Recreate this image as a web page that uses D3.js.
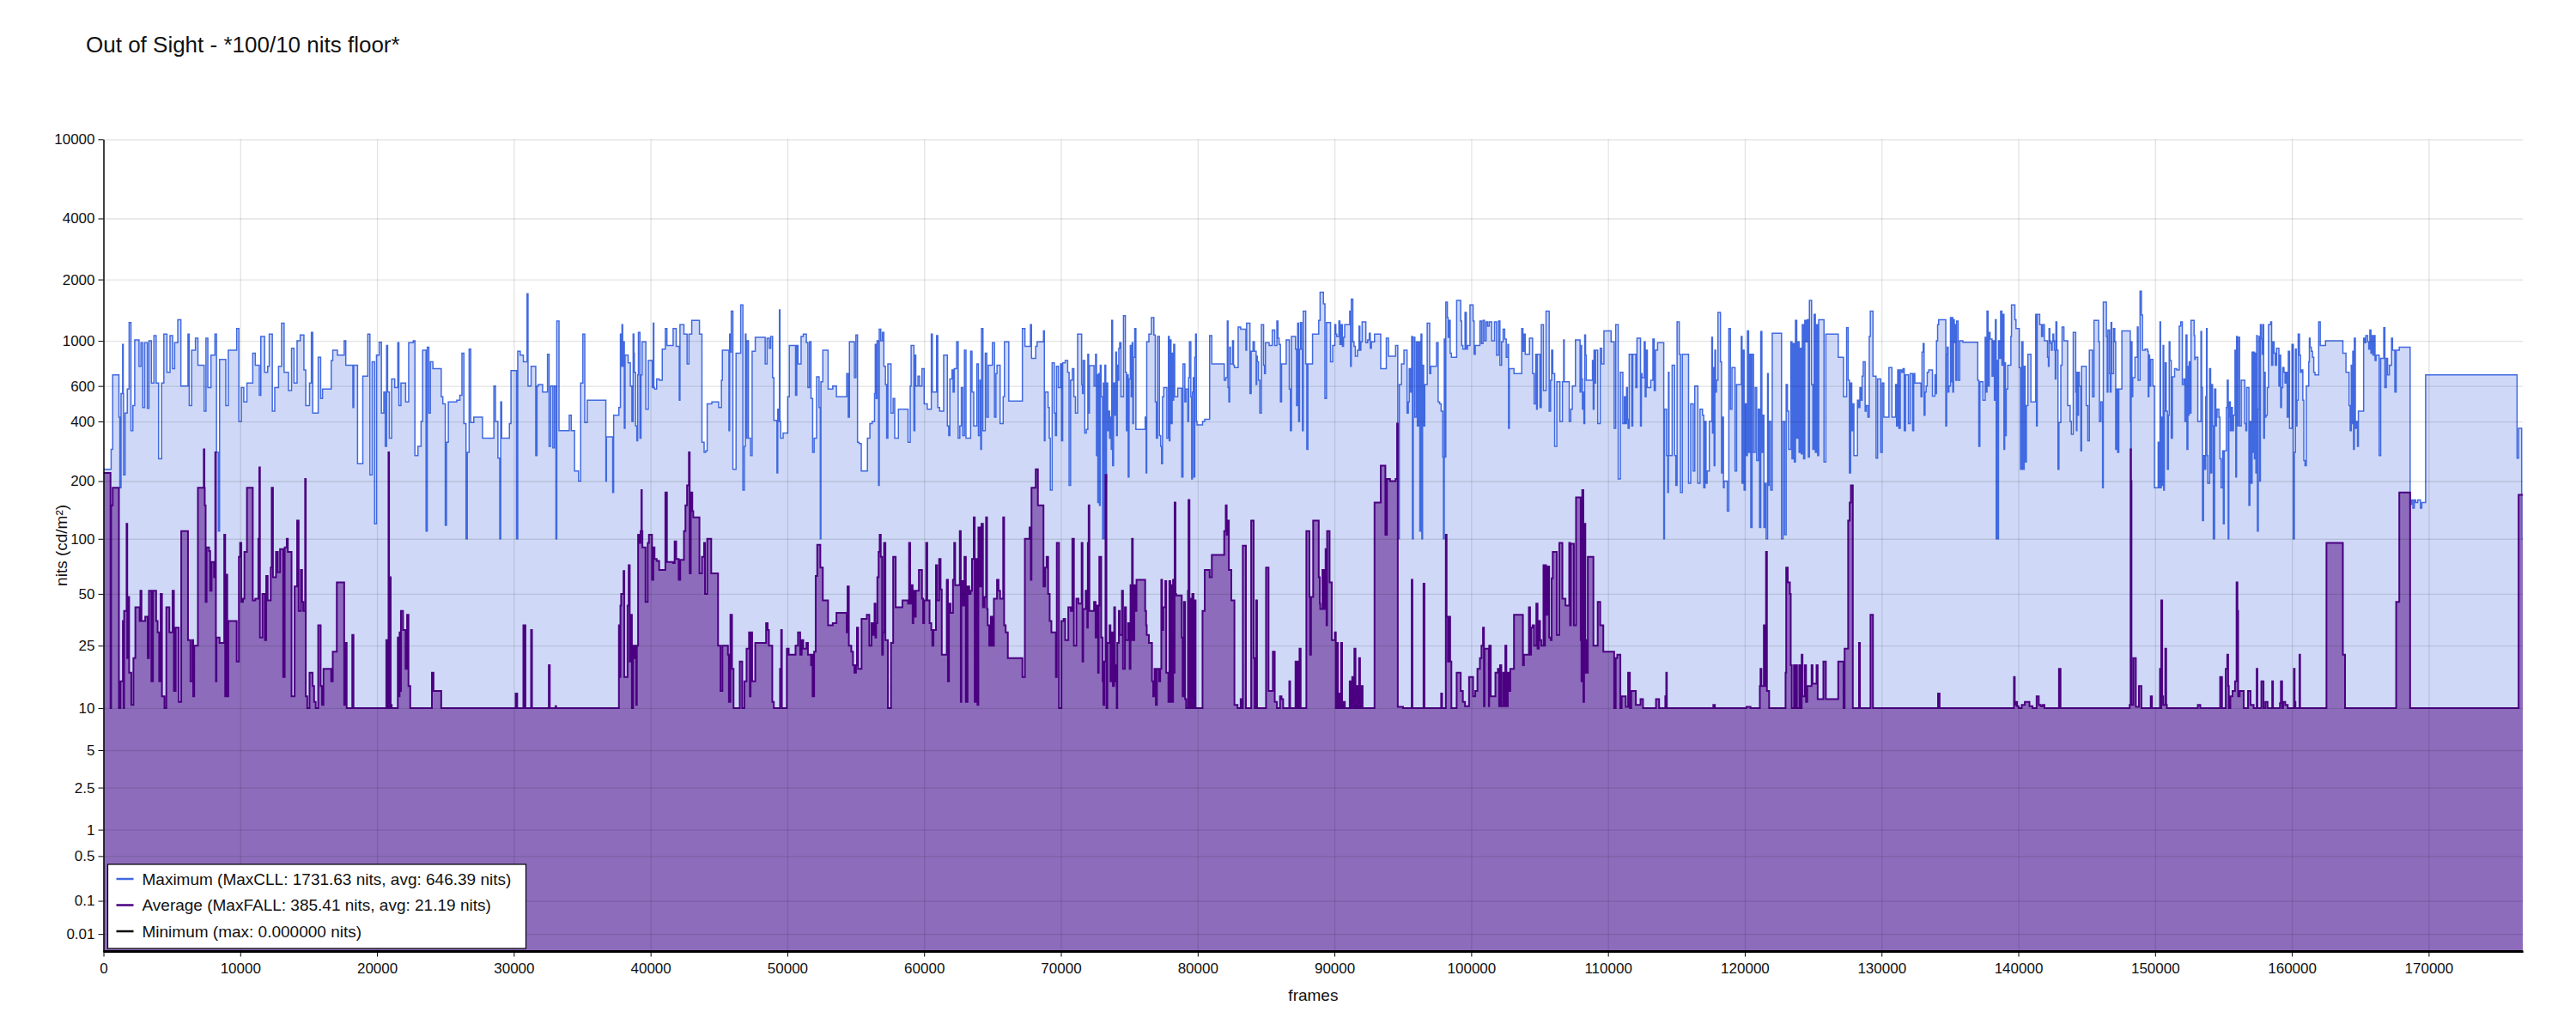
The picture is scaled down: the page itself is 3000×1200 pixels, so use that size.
<!DOCTYPE html>
<html>
<head>
<meta charset="utf-8">
<title>Out of Sight - *100/10 nits floor*</title>
<script src="https://cdn.jsdelivr.net/npm/d3@7"></script>
<style>
  body { margin: 0; background: #fff; }
  svg { font-family: "Liberation Sans", Arial, sans-serif; }
  .grid line { stroke: #000; stroke-opacity: 0.11; stroke-width: 1.3; }
  .grid path { display: none; }
  .axis text { font-size: 17px; fill: #111; }
  .axis path, .axis line { stroke: #000; }
</style>
</head>
<body>
<div id="chart"></div>
<script>
var title = "Out of Sight - *100/10 nits floor*";
var totalFrames = 176900;

var yTicks = [0.01, 0.1, 0.5, 1, 2.5, 5, 10, 25, 50, 100, 200, 400, 600, 1000, 2000, 4000, 10000];
var xTicks = [0, 10000, 20000, 30000, 40000, 50000, 60000, 70000, 80000, 90000,
  100000, 110000, 120000, 130000, 140000, 150000, 160000, 170000];

var legendLabels = [
  "Maximum (MaxCLL: 1731.63 nits, avg: 646.39 nits)",
  "Average (MaxFALL: 385.41 nits, avg: 21.19 nits)",
  "Minimum (max: 0.000000 nits)"
];

// [start frame, nits] - held until the next entry
var maxSteps = [
  [0,230],[560,290],[675,680],[1130,420],[1195,185],[1285,550],[1400,960],[1445,550],[1470,215],[1580,440],
  [1740,580],[1875,1230],[2010,360],[2150,480],[2285,1010],[2600,750],[2740,980],[2870,470],[3010,980],[3210,465],
  [3325,1000],[3505,620],[3690,1060],[3850,620],[4030,260],[4255,620],[4415,1080],[4640,700],[4865,1060],[5050,730],
  [5205,980],[5435,1270],[5660,600],[6180,1080],[6270,480],[6450,900],[6725,1030],[6905,760],[7360,450],[7495,1030],
  [7630,590],[7860,850],[8150,1080],[8265,280],[8400,110],[8490,810],[8945,480],[9125,900],[9740,1150],[9900,400],
  [10080,590],[10260,500],[10490,620],[10915,870],[11100,760],[11395,540],[11505,1050],[11780,700],[12005,750],[12120,1080],
  [12345,450],[12525,590],[12800,750],[13025,1220],[13205,700],[13525,570],[13750,920],[13930,620],[14155,1000],[14385,1070],
  [14655,720],[14790,480],[15065,620],[15200,1100],[15300,440],[15700,830],[15880,520],[16015,580],[16650,800],[16765,900],
  [17105,850],[17600,1000],[17715,760],[18235,470],[18300,760],[18575,245],[18960,670],[19325,1080],[19480,215],[19640,790],
  [19820,120],[19960,850],[20160,985],[20320,440],[20500,560],[20600,300],[20700,950],[20775,560],[20900,330],[21070,650],
  [21295,590],[21520,980],[21600,480],[21750,620],[22090,500],[22315,980],[22655,1000],[22770,270],[22995,300],[23220,400],
  [23335,900],[23585,110],[23675,930],[23790,440],[23900,790],[24085,730],[24695,530],[24810,490],[24990,118],[25080,315],
  [25215,500],[25830,510],[26055,540],[26210,870],[26350,390],[26505,100],[26600,280],[26735,910],[26850,395],[27075,420],
  [27710,330],[28545,600],[28660,400],[28840,262],[28975,100],[29045,500],[29115,330],[29680,390],[29795,715],[30200,100],
  [30290,890],[30470,850],[30700,790],[30970,1700],[31040,600],[31265,750],[31605,270],[31700,600],[31790,610],[32105,560],
  [32465,860],[32580,300],[32695,600],[32855,295],[32965,600],[33080,100],[33145,1250],[33305,360],[34055,430],[34200,360],
  [34440,225],[34735,200],[34890,620],[35050,1080],
  [35190,395],[35370,510],[36730,200],[36775,335],[37230,175],[37300,430],[37685,470],[37795,1080],[37850,750],[37910,1200],
  [37960,750],[38025,990],[38080,370],[38135,850],[38360,780],[38520,600],[38635,400],[38725,1080],[38780,870],[38815,700],
  [38900,380],[38995,320],[39060,680],[39110,1100],[39225,330],[39300,680],[39380,990],[39655,460],[39835,800],[40130,590],
  [40200,1220],[40240,590],[40290,580],[40445,650],[40630,640],[40855,910],[41080,1150],[41195,950],[41650,1150],[41875,940],
  [42100,510],[42150,1200],[42440,1080],[42670,770],[42805,1080],[43010,1260],[43575,1080],[43755,315],[43915,280],[44030,285],
  [44140,490],[44480,500],[44980,470],[45180,640],[45250,900],[45730,360],[45780,1080],[45840,880],[45900,1400],[46020,230],
  [46250,870],[46590,1500],[46750,180],[46860,300],[46930,1080],[46975,330],[47050,1000],[47155,330],[47310,270],[47425,890],
  [47655,1040],[48380,770],[48515,1030],[48675,920],[48785,1050],[48920,660],[49015,405],[49240,220],[49300,460],[49355,400],
  [49420,1420],[49460,400],[49510,330],[49690,350],[50030,530],[50145,950],[50600,540],[50690,950],[50780,770],[51005,1050],
  [51165,1080],[51390,980],[51505,590],[51620,990],[51730,520],[51850,280],[51960,330],[52140,665],[52320,470],[52410,100],
  [52455,630],[52595,900],[52980,580],[53320,600],[53590,530],[54340,690],[54450,420],[54540,990],[54905,660],[55015,1070],
  [55130,315],[55245,310],[55405,225],[55855,330],[56035,390],[56200,400],[56375,550],[56430,960],[56490,520],[56560,1000],
  [56670,190],[56720,1140],[56830,1000],[56950,1100],[57055,750],[57170,610],[57260,330],[57350,770],[57580,440],[57735,520],
  [57850,330],[58120,460],[58825,315],[58985,600],[59050,950],[59255,360],[59320,850],[59390,600],[59550,670],[59665,600],
  [59845,730],[60000,490],[60230,460],[60525,1080],[60600,560],[60910,1060],[61000,470],[61135,450],[61430,850],[61700,380],
  [61800,340],[61885,650],[62040,720],[62120,560],[62200,730],[62380,990],[62490,330],[62610,380],[62720,590],[62830,340],
  [62950,900],[63060,330],[63400,890],[63500,560],[63630,380],[63855,770],[63970,340],[64080,640],[64140,290],[64195,1150],
  [64300,360],[64470,870],[64580,420],[64695,760],[64990,980],[65145,420],[65250,690],[65330,760],[65555,390],[65780,530],
  [65870,990],[66190,505],[67185,1150],[67370,940],[67775,1200],[67850,820],[68160,940],[68260,990],[68730,1120],[68790,320],
  [68840,560],[69065,470],[69150,330],[69225,180],[69360,780],[69520,440],[69600,340],[69680,750],[69815,590],[69975,770],
  [70050,320],[70130,780],[70315,800],[70495,700],[70600,190],
  [70710,640],[70837,730],[70950,530],[71064,440],[71223,1080],[71517,610],[71580,550],[71630,800],[71744,350],[71857,365],
  [71970,860],[72030,440],[72084,755],[72424,600],[72537,860],[72600,270],[72650,680],[72700,155],[72763,690],[72820,150],
  [72877,760],[72940,530],[73050,100],[73103,620],[73160,100],[73217,760],[73280,200],[73330,620],[73420,360],[73489,450],
  [73560,330],[73624,420],[73680,290],[73715,1260],[73780,240],[73851,620],[73930,430],[74010,880],[74070,340],[74123,760],
  [74180,640],[74236,920],[74300,980],[74395,530],[74576,1330],[74712,700],[74790,360],[74848,680],[74920,210],[74984,650],
  [75075,950],[75140,530],[75211,980],[75260,390],[75301,830],[75400,1150],[75483,365],[76162,420],[76230,220],[76276,990],
  [76434,1080],[76616,1300],[76797,1070],[76900,500],[76978,330],[77069,1050],[77205,340],[77295,300],[77360,245],[77431,530],
  [77522,590],[77749,330],[77862,1050],[77920,320],[77975,1010],[78050,390],[78134,870],[78190,510],[78247,960],[78320,530],
  [78542,585],[78836,210],[78927,770],[79063,500],[79140,580],[79280,400],[79335,660],[79400,990],[79500,530],[79561,205],
  [79620,560],[79675,660],[79730,210],[79788,830],[79850,1080],[79901,400],[79950,385],[80355,400],[80513,410],[80876,1060],
  [81034,770],[81941,640],[82054,660],[82167,1250],[82220,590],[82281,500],[82340,930],[82394,770],[82553,1000],[82620,760],
  [82688,740],[82960,1170],[83142,1140],[83527,900],[83580,1220],[83821,550],[83912,890],[84048,990],[84150,890],[84275,610],
  [84320,840],[84365,790],[84450,640],[84547,440],[84660,1200],[84819,760],[84890,690],[84954,980],[85226,950],[85453,1130],
  [85634,950],[85793,1250],[85870,1030],[85952,960],[86050,500],[86133,770],[86473,1010],[86699,580],[86780,360],[86858,1050],
  [87153,910],[87230,480],[87311,1220],[87380,400],[87447,910],[87520,1230],[87606,910],[87660,360],[87719,1400],[87900,770],
  [87980,290],[88059,770],[88399,1080],[88852,1260],[88950,1730],[89192,1520],[89305,520],[89419,1230],[89713,790],[89872,950],
  [90030,1200],[90100,1080],[90166,1050],[90325,1250],[90400,960],[90484,1200],[90580,940],[90665,1040],[90750,1200],[91118,1400],
  [91180,750],[91231,1600],[91345,990],[91430,940],[91526,840],[91685,900],[91798,1180],[91860,900],[91934,990],[92024,1240],
  [92296,980],[92432,1010],[92546,1090],[92620,920],[92704,990],[92931,1080],[93384,730],[93792,1030],[93951,840],[94472,950],
  [94630,380],[94700,100],[94744,610],[94900,770],[95084,900],[95310,440],[95400,500],[95469,730],[95560,560],[95650,1050],
  [95700,100],[95763,1040],[95880,420],[95990,990],[96060,380],[96149,990],[96240,110],[96330,1080],[96390,100],[96443,760],
  [96520,380],[96602,610],[96783,1220],[96964,690],[97040,750],[97463,980],[97580,500],[97689,490],[97800,450],[97916,265],
  [97970,100],[98029,1020],[98090,265],[98143,1550],[98256,1300],[98310,1040],[98369,1260],[98460,870],[98550,830],[98936,1580],
  [99230,1250],[99300,950],[99389,910],[99547,1380],[99640,910],[99729,950],[99910,1500],[100137,1250],[100210,860],[100295,950],
  [100635,1250],[100750,970],[100862,1260],[100970,1000],[101088,1240],[101200,1180],[101315,1240],[101500,1000],[101700,1240],[101850,850],
  [101995,1250],[102100,760],[102221,990],[102330,1140],[102448,1020],[102560,830],[102675,960],[102730,370],[102788,730],[103128,690],
  [103694,1150],[103780,890],[103853,1080],[103950,860],[104261,1030],[104487,690],[104600,490],[104714,860],[104780,460],[104827,860],
  [105030,470],[105122,1200],[105281,570],[105470,1400],[105700,450],[105802,640],[105880,900],[105961,690],[106100,300],
  [106259,630],[106486,400],[106667,630],[106760,1010],[106800,630],[107165,400],[107279,460],[107392,600],[107619,1010],[107959,560],
  [108020,950],[108072,650],[108130,460],[108185,560],[108240,390],[108298,1070],[108360,850],[108412,640],[108865,800],[108920,460],
  [108978,900],[109040,620],[109092,900],[109250,390],[109431,920],[109545,770],[109703,1120],[110225,990],[110451,370],[110564,1200],
  [110746,205],[110904,700],[111086,390],[111199,530],[111280,390],[111358,590],[111420,410],[111471,370],[111550,860],[111740,380],
  [111811,860],[112037,590],[112120,1030],[112377,380],[112440,690],[112491,660],[112649,990],[112720,530],[112785,900],[112876,590],
  [113125,640],[113284,1020],[113380,570],[113465,900],[113624,980],[114077,100],[114130,460],[114280,270],[114371,175],[114420,700],
  [114462,270],[114689,760],[114870,270],[114960,190],[115051,1240],[115210,860],[115300,175],[115436,860],[115890,195],[116048,490],
  [116229,225],[116343,600],[116569,195],[116728,460],[116909,430],[117000,185],[117090,400],[117170,195],[117249,225],[117408,400],
  [117589,1040],[117640,350],[117702,740],[117760,240],[117816,900],[117870,560],[117929,640],[118042,1380],[118223,790],[118300,220],
  [118382,420],[118440,185],[118495,200],[118722,140],[118835,1150],[118949,460],[119062,740],[119289,225],[119402,610],[119742,1050],
  [119800,195],[119855,900],[119950,180],[120036,490],[120110,270],[120195,1120],[120280,280],[120354,860],[120440,115],[120535,860],
  [120640,280],[120761,590],[120870,255],[120988,460],[121080,115],[121169,1110],[121250,280],[121328,430],[121400,115],[121487,195],
  [121560,100],[121668,690],[121720,190],[121781,400],[121900,180],[122008,1090],[122688,100],[122801,400],[122920,105],[123027,610],
  [123120,450],[123209,290],[123367,990],[123450,260],[123526,970],[123620,250],[123707,1260],[123800,330],[123888,990],[123970,280],
  [124047,920],[124130,275],[124206,1200],[124300,260],[124387,1260],[124480,990],[124568,1270],[124650,265],[124727,1580],[124886,610],
  [124980,290],[125067,1350],[125160,280],[125248,1200],[125330,270],[125407,1270],[125792,250],[125928,1080],[126833,830],[127219,530],
  [127446,1160],[127559,640],[127650,220],[127740,620],[127820,360],[127899,490],[127980,270],[128239,510],[128330,470],[128420,590],
  [128500,510],[128579,670],[128660,790],[128800,450],[128874,480],[129000,420],[129100,1050],[129180,1400],[129372,670],[129599,262],
  [129712,650],[129939,280],[130052,620],[130165,420],[130540,740],[130760,420],[131026,610],[131100,380],[131185,720],[131270,370],
  [131366,720],[131470,700],[131570,730],[131660,360],[131752,680],[131970,390],[132092,690],[132273,360],[132350,690],[132432,620],
  [132885,530],[132960,880],[133044,970],[133110,430],[133179,560],[133260,600],[133338,700],[133451,720],[133723,535],[133904,680],
  [133960,550],[134018,1000],[134100,1200],[134177,1270],[134698,380],[134760,860],[134811,930],[134870,560],[134924,600],[135038,1300],
  [135100,630],[135151,1300],[135210,560],[135264,1270],[135320,980],[135378,1200],[135430,640],[135491,1250],[135600,640],[135717,1000],
  [135944,985],[137032,640],[137110,300],[137190,630],[137417,510],[137576,1040],[137640,560],[137711,1400],[137790,600],[137870,1100],
  [137930,1020],[138080,670],[138164,1000],[138250,510],[138323,1270],[138380,100],[138436,800],[138500,100],[138550,1000],[138630,820],
  [138708,1400],[138800,760],[138889,1350],[138950,290],[139003,780],[139060,340],[139116,580],[139229,760],[139456,1050],[139500,1500],
  [139750,1270],[139830,1150],[140068,740],[140160,230],[140249,990],[140340,230],[140430,750],[140500,250],[140589,480],[140702,860],
  [140920,500],[141269,1350],[141330,380],[141382,1350],[141563,1200],[141700,1050],
  [141794,1200],[141907,1000],[142134,830],[142200,750],[142247,1150],[142300,1000],[142361,970],[142420,900],[142474,990],[142530,1080],
  [142587,1000],[142640,900],[142700,650],[142750,1240],[142814,900],[142900,230],[142972,395],[143108,760],[143199,1170],[143335,1000],
  [143607,480],[143788,400],[143879,345],[144015,1100],[144196,560],[144250,360],[144287,700],[144340,430],[144400,700],[144460,600],
  [144570,285],[144627,750],[144966,480],[145080,320],[145193,900],[145420,530],[145533,1260],[145873,990],[145930,400],[146040,500],
  [146160,185],[146213,1550],[146439,1050],[146500,560],[146553,1130],[146666,690],[146720,560],[146779,1230],[146830,690],[146960,1150],
  [147051,990],[147120,290],[147187,580],[147260,280],[147346,580],[147572,1120],[148184,400],[148220,290],[148252,990],[148310,530],
  [148365,660],[148530,830],[148705,1170],[148760,640],[148900,1750],[149000,1340],[149080,900],[149272,910],[149453,890],[149500,530],
  [149544,850],[149600,600],[149680,810],[149839,600],[149952,185],[150224,315],[150290,185],[150359,1240],[150400,185],[150450,420],
  [150510,190],[150586,950],[150630,180],[150677,450],[150740,780],[150813,450],[150900,230],[150971,430],[151030,990],[151085,800],
  [151180,330],[151266,665],[151425,730],[151583,720],[151764,1180],[151878,1240],[151991,610],[152104,650],[152180,400],[152263,1070],
  [152330,290],[152399,750],[152440,430],[152490,790],[152560,440],[152626,1260],[152852,1060],[152900,810],[152943,830],[153124,400],
  [153351,1110],[153400,590],[153464,125],[153540,270],[153623,230],[153700,530],[153759,1150],[153800,270],[153849,195],[153985,730],
  [154060,220],[154144,610],[154200,380],[154257,100],[154350,580],[154438,380],[154480,420],[154529,460],[154665,420],[154740,260],
  [154824,185],[154937,285],[154990,120],[155050,285],[155209,470],[155280,640],[155345,100],[155390,420],[155435,500],[155500,360],
  [155571,470],[155650,360],[155730,430],[155843,900],[155900,210],[155957,1050],[156010,380],[156070,1040],[156180,380],[156296,640],
  [156560,390],[156636,360],[156700,590],[156860,150],[156931,400],[157000,195],[157090,880],[157150,280],[157203,880],[157260,260],
  [157316,870],[157370,220],[157429,1060],[157480,110],[157543,460],[157600,1050],[157656,200],[157700,1200],[157769,1020],[157830,860],
  [157883,1200],[157940,330],[157996,700],[158050,420],[158109,430],[158200,590],[158290,1200],[158449,1240],[158520,760],[158608,990],
  [158700,870],[158789,760],[158880,920],[159050,600],[159129,850],[159180,470],[159242,590],[159330,740],[159423,700],[159500,620],
  [159582,700],[159660,420],[159741,890],[159830,370],[160010,960],[160103,100],[160180,280],[160262,910],[160320,380],[160375,510],
  [160460,1080],[160556,850],[160630,700],[160715,720],[160800,510],[160874,255],[160960,240],[161055,600],[161236,790],[161280,1030],
  [161327,930],[161420,890],[161508,830],[161600,700],[161689,680],[161961,1240],[162075,950],[162460,1000],[163729,870],[163955,700],
  [164182,480],[164260,360],[164341,760],[164400,390],[164454,890],[164510,290],[164567,1030],[164640,370],[164726,400],[164800,300],
  [164862,450],[165247,1030],[165320,980],[165406,1060],[165542,990],[165620,910],[165700,1130],[165780,870],[165859,1060],[165930,850],
  [165995,1060],[166080,800],[166154,850],[166380,270],[166493,820],[166720,1160],[166800,590],[166901,820],[167000,680],[167128,760],
  [167287,1030],[167360,900],[167530,560],[167626,900],[167853,930],[168646,152],[168750,160],[168850,145],[168950,160],[169050,155],
  [169200,160],[169400,145],[169500,155],[169779,680],[176464,262],[176577,370],[176800,100]
];

var avgSteps = [
  [0,220],[515,10],[560,150],[675,185],[1130,10],[1240,15],[1420,35],[1470,10],[1510,40],[1690,120],
  [1740,21],[1830,48],[1876,17],[2035,10.5],[2190,21],[2330,42],[2645,35],[2700,52],[2780,35],[3055,37],
  [3235,21],[3325,52],[3505,15],[3620,52],[3850,35],[3960,30],[4075,15],[4180,50],[4277,12],[4460,10],
  [4595,42],[4820,30],[5050,52],[5150,13],[5275,32],[5500,11],[5685,110],[6180,27],[6360,15],[6500,27],
  [6560,12],[6635,25],[6905,185],[7335,290],[7380,185],[7405,150],[7470,45],[7540,90],[7720,86],[7800,52],
  [7905,75],[8085,62],[8175,280],[8220,15],[8265,28],[8490,26],[8830,105],[8900,12],[8946,64],[9050,12],
  [9127,35],[9740,20],[9900,80],[9990,95],[10080,45],[10200,47],[10305,85],[10490,185],[10915,46],[11100,47],
  [11325,100],[11393,235],[11440,28],[11620,50],[11800,27],[11900,63],[12005,46],[12230,70],[12300,185],[12390,62],
  [12615,85],[12750,66],[12910,88],[13140,16],[13250,90],[13400,100],[13480,85],[13750,12],[13975,55],[14160,125],
  [14270,40],[14430,68],[14520,45],[14610,40],[14745,205],[14790,12],[14900,10],[15065,17],[15290,14],[15400,11],
  [15517,10],[15700,33],[15880,14],[15980,10.5],[16085,18],[16650,15],[16765,23],[17060,58],[17600,10.5],[17715,26],
  [17780,10],[18190,29],[18280,10],[20680,27],[20760,10],[20840,280],[20880,10],[20950,62],[21000,10.5],[21070,10],
  [21520,28],[21580,12],[21650,30],[21700,13],[21750,40],[21900,31],[22090,18],[22200,38],[22300,14],[22430,10],
  [24015,17],[24130,13],[24695,10],[30135,12.5],[30250,10],[30700,33],[30760,10],[30800,33],[30850,10],[31265,31],
  [31330,10],[32560,19],[32630,10],[33050,10.3],[33100,10],
  [35190,10],[37685,33],[37760,16],[37795,43],[37850,50],[38023,67],[38080,16],[38317,43],[38400,72],[38476,20],
  [38560,38],[38634,10],[38725,25],[38800,21],[38861,25],[38950,10.5],[38997,25],[39088,105],[39180,95],[39269,110],
  [39330,180],[39360,110],[39405,90],[39631,45],[39790,95],[39881,105],[40107,60],[40200,90],[40289,78],[40447,76],
  [40628,68],[41082,175],[41195,75],[41648,74],[41760,97],[41875,78],[42056,60],[42169,77],[42441,110],[42550,150],
  [42668,190],[42804,280],[42860,65],[42940,175],[43050,140],[43121,130],[43574,65],[43755,80],[43914,95],[43980,50],
  [44141,100],[44435,65],[44934,25],[45115,13],[45251,25],[45659,22],[45727,11],[45840,38],[45954,18],[46067,10],
  [46520,20],[46701,10],[46860,15],[47019,24],[47200,30],[47260,12],[47313,30],[47426,15],[47653,26],[48446,34],
  [48559,31],[48650,25],[48899,11],[49013,10],[49466,18],[49550,31],[49600,10],[49964,24],[50100,22],[50599,25],
  [50780,30],[50939,22],[51052,27],[51165,24],[51392,26],[51505,22],[51732,19],[51800,22],[51845,12],[51958,23],
  [52072,63],[52185,93],[52412,70],[52593,46],[52978,33],[53318,34],[53590,39],[54338,30],[54400,55],[54497,25],
  [54678,23],[54800,19],[54904,17],[55018,19],[55090,32],[55176,18],[55425,36],[55811,38],[55992,25],[56151,34],
  [56250,29],[56377,44],[56440,28],[56490,34],[56580,62],[56672,85],[56750,105],[56830,80],[56930,22],[56989,30],
  [57070,95],[57170,27],[57351,10],[57578,26],[57737,80],[57919,42],[58417,46],[58824,44],[58900,95],[58983,44],
  [59050,52],[59096,56],[59160,34],[59210,52],[59300,37],[59391,52],[59618,68],[59844,47],[59930,34],[60003,46],
  [60150,95],[60229,46],[60400,34],[60524,31],[60600,25],[60683,31],[60864,72],[60950,46],[61100,78],[61204,53],
  [61290,22],[61657,60],[61740,15],[61816,44],[61929,39],[62110,60],[62200,95],[62269,56],[62609,110],[62680,11],
  [62722,59],[62849,43],[62949,80],[63050,11],[63175,55],[63300,50],[63402,52],[63500,78],[63628,130],[63700,11],
  [63787,78],[63900,10.5],[63968,115],[64082,55],[64195,120],[64300,42],[64421,48],[64530,130],[64600,41],[64648,33],
  [64760,25],[64875,37],[64988,25],[65101,47],[65328,60],[65440,52],[65554,47],[65781,130],[65850,33],[65962,30],
  [66121,21],[67186,16],[67367,100],[67707,115],[67800,60],[67850,185],[68160,230],[68319,150],[68727,55],[68840,70],
  [68954,80],[69067,50],[69180,35],[69304,30],[69634,16],[69700,95],[69860,10],[70041,35],[70200,36],[70313,27],
  [70540,42],
  [70724,40],[70837,100],[70951,25],[71132,47],[71291,44],[71517,95],[71580,20],[71630,41],[71812,52],[71930,32],
  [71970,95],[72030,150],[72084,40],[72424,45],[72537,28],[72650,43],[72720,17],[72763,43],[72809,80],[72945,28],
  [73050,15],[73103,10.5],[73170,20],[73262,215],[73330,10],[73398,26],[73557,33],[73624,15],[73715,30],[73800,14],
  [73896,42],[73960,19],[74010,15],[74080,10],[74123,26],[74236,40],[74304,29],[74463,52],[74540,18],[74680,42],
  [74757,27],[74916,34],[75029,18],[75090,56],[75143,27],[75200,100],[75256,27],[75369,56],[75450,40],[75528,60],
  [76162,40],[76230,33],[76276,29],[76434,26],[76661,15],[76750,12],[76842,18],[76940,10.5],[77023,18],[77182,15],
  [77260,18],[77341,60],[77400,31],[77477,42],[77635,59],[77700,17],[77860,11],[77930,59],[78000,11],[78089,56],
  [78150,11],[78202,60],[78260,17],[78315,155],[78380,50],[78428,49],[78836,28],[78900,12],[78995,45],[79080,11.5],
  [79154,10],[79289,52],[79330,160],[79400,10],[79448,47],[79540,10],[79607,50],[79700,10],[79743,46],[79850,10],
  [80355,40],[80513,68],[80876,62],[81034,82],[81941,110],[82054,150],[82120,105],[82167,125],[82281,68],[82462,46],
  [82688,10.5],[82915,10],[83142,11.5],[83250,10],[83300,92],[83527,10],[83912,125],[84093,21],[84170,10],[84275,46],
  [84340,10],[84999,70],[85181,13],[85498,23],[85634,11],[85793,10],[86020,12],[86133,11.5],[86250,10],[86699,15],
  [86760,10],[87153,20],[87220,10],[87311,20],[87390,10],[87447,24],[87530,10],[87946,110],[88172,48],[88220,22],
  [88286,48],[88444,125],[88852,62],[88930,44],[88965,41],[89124,68],[89240,41],[89351,88],[89420,33],[89464,110],
  [89645,58],[89804,27],[90030,30],[90100,10],[90166,26],[90250,10],[90325,12.5],[90400,10],[90484,26],[90560,10],
  [90665,11],[90760,10],[91118,15],[91200,10],[91300,16],[91380,10],[91458,24],[91540,10],[91617,14],[91700,10],
  [91798,21],[91870,10],[91980,14],[92060,10],[92931,155],[93384,240],[93724,105],[93837,205],[94064,200],[94472,205],
  [94580,390],[94630,10.2],[95016,10],[95650,60],[95700,10],[96511,57],[96580,10],[97803,12.5],[97870,10],[98143,105],
  [98200,37],[98300,20],[98369,37],[98460,20],[98550,10],[98936,17],[99230,13],[99389,11],[99547,10.3],[99842,16],
  [100137,12],[100295,13],[100454,18],[100635,21],[100750,25],[100862,32],[100930,10.3],[100975,24],[101290,10.3],[101315,25],
  [101428,12],[101768,17],[101949,18],[102040,10.3],[102108,19],[102200,10.3],[102335,17],[102420,10.3],[102493,25],[102570,10.3],
  [102675,17],[102760,13],[102856,18],[103128,38],[103780,19],[103853,22],[104216,42],[104300,22],[104374,32],[104487,33],
  [104601,25],[104760,44],[104850,24],[104941,35],[105030,27],[105122,25],[105281,72],[105350,25],[105394,72],[105470,38],
  [105575,71],[105700,28],[105802,27],[105880,61],[105961,85],
  [106259,29],[106440,95],[106667,47],[106893,43],[107165,95],[107230,33],[107279,94],[107505,33],[107664,165],[108004,27],
  [108060,15],[108117,180],[108200,11],[108253,17],[108300,120],[108344,27],[108400,17],[108525,80],[108933,25],[109250,45],
  [109431,33],[109658,23],[110451,10],[110564,21],[110678,22],[110904,10],[111000,12],[111300,10.2],[111471,17],[111600,10],
  [111697,13],[112037,10.5],[112377,11.5],[112558,10],[113510,11.5],[113737,10],[114190,12],[114260,17],[114303,10],[117702,10.5],
  [117816,10],[120127,10.2],[120421,10],[121101,14],[121150,18],[121215,14],[121396,33],[121450,14],[121555,85],[121620,13],
  [121781,10],[122982,17],[123030,70],[123141,58],[123299,50],[123360,19],[123435,10],[123594,19],[123650,10],[123707,19],
  [123821,10],[123979,19],[124050,10],[124160,22],[124220,12],[124387,19],[124480,11],[124568,14],[124886,19],[124954,14.5],
  [125248,19],[125330,11.5],[125747,20],[125928,11.5],[126833,20],[127219,10],[127300,24],[127559,125],[127672,155],[127760,190],
  [127899,10],[128352,26],[128420,10],[129191,38],[129372,10],[134131,12.5],[134244,10],[139682,16],[139740,10.5],[139796,11],
  [139909,10.3],[140022,10],[140249,10.5],[140476,11],[140816,10.3],[141042,10],[141337,12],[141496,10.5],[141640,10.3],
  [141794,10.5],[141907,10],[142972,18],[143086,10],[148139,10.5],[148207,290],[148240,200],[148275,10.5],[148411,21],[148592,10.2],
  [148819,14],[149000,10],[149680,12],[149770,10],[150359,18],[150420,10],[150450,46],[150520,12],[150586,10.5],[150745,24],
  [150810,10.5],[150858,10],[153124,10.5],[153305,10],[154756,16],[154892,10],[155164,18],[155277,22],[155340,14],[155390,10],
  [155503,12],[155662,13],[155843,15],[155957,58],[156020,40],[156070,12],[156183,13],[156478,10],[156795,13],[156976,10.5],
  [157203,10],[157429,18],[157480,10],[157769,15],[157928,10],[158064,11],[158223,10],[158562,15],[158620,10],[159129,10.8],
  [159197,15],[159288,10],[159356,11],[159514,10.5],[159696,10],[160149,18],[160200,11],[160262,10],[160556,22],[160600,10],
  [162528,95],[163729,22],[163888,10],[167626,45],[167853,175],[168646,10],[176577,170]
];

var minSteps = [[0, 0], [176900, 0]];

var seriesColors = ["#4169e1", "#4b0082", "#000000"];

// SMPTE ST 2084 (PQ) curve used for the vertical axis
var m1 = 0.1593017578125, m2 = 78.84375,
    c1 = 0.8359375, c2 = 18.8515625, c3 = 18.6875;
function pq(nits) {
  var p = Math.pow(Math.max(nits, 0) / 10000, m1);
  return Math.pow((c1 + c2 * p) / (1 + c3 * p), m2);
}

var width = 3000, height = 1200;
var margin = {top: 162.3, right: 61.7, bottom: 91.5, left: 120.5};
var plotW = width - margin.left - margin.right,
    plotH = height - margin.top - margin.bottom;

var svg = d3.select("#chart").append("svg")
    .attr("width", width)
    .attr("height", height);

var x = d3.scaleLinear().domain([0, totalFrames]).range([margin.left, width - margin.right]);
var yPq = d3.scaleLinear().domain([0, 1]).range([height - margin.bottom, margin.top]);
var y = function(v) { return yPq(pq(v)); };

function withEnd(steps) {
  var s = steps.slice().sort(function(a, b) { return a[0] - b[0]; });
  return s.concat([[totalFrames, s[s.length - 1][1]]]);
}
var maxData = withEnd(maxSteps),
    avgData = withEnd(avgSteps),
    minData = withEnd(minSteps);

svg.append("defs").append("clipPath").attr("id", "plot-clip")
  .append("rect")
    .attr("x", margin.left).attr("y", margin.top - 2)
    .attr("width", plotW).attr("height", plotH + 4);

svg.append("text")
    .attr("x", 100).attr("y", 61)
    .attr("font-size", 26)
    .attr("fill", "#111")
    .text(title);

var area = d3.area()
    .curve(d3.curveStepAfter)
    .x(function(d) { return x(d[0]); })
    .y0(yPq(0))
    .y1(function(d) { return y(d[1]); });

var line = d3.line()
    .curve(d3.curveStepAfter)
    .x(function(d) { return x(d[0]); })
    .y(function(d) { return y(d[1]); });

var plot = svg.append("g").attr("clip-path", "url(#plot-clip)");

plot.append("path").datum(maxData)
    .attr("d", area)
    .attr("fill", seriesColors[0]).attr("fill-opacity", 0.25);
plot.append("path").datum(avgData)
    .attr("d", area)
    .attr("fill", seriesColors[1]).attr("fill-opacity", 0.5);

// grid
svg.append("g").attr("class", "grid")
    .attr("transform", "translate(" + margin.left + ",0)")
    .call(d3.axisLeft(yPq).tickValues(yTicks.map(pq)).tickSize(-plotW).tickFormat(""));
svg.append("g").attr("class", "grid")
    .attr("transform", "translate(0," + (height - margin.bottom) + ")")
    .call(d3.axisBottom(x).tickValues(xTicks.slice(1)).tickSize(plotH).tickSizeOuter(0).tickFormat(""))
  .selectAll("line")
    .attr("y2", -plotH);

plot.append("path").datum(maxData)
    .attr("d", line)
    .attr("fill", "none")
    .attr("stroke", seriesColors[0]).attr("stroke-width", 1.5);
plot.append("path").datum(avgData)
    .attr("d", line)
    .attr("fill", "none")
    .attr("stroke", seriesColors[1]).attr("stroke-width", 2);

// axes
var yAxis = svg.append("g").attr("class", "axis")
    .attr("transform", "translate(" + margin.left + ",0)")
    .call(d3.axisLeft(yPq)
      .tickValues(yTicks.map(pq))
      .tickFormat(function(d, i) { return String(yTicks[i]); })
      .tickSize(6).tickSizeOuter(0).tickPadding(4));
yAxis.select(".domain").attr("stroke-width", 1.5);

var xAxis = svg.append("g").attr("class", "axis")
    .attr("transform", "translate(0," + (height - margin.bottom) + ")")
    .call(d3.axisBottom(x).tickValues(xTicks).tickFormat(d3.format("d"))
      .tickSize(6).tickSizeOuter(0).tickPadding(7));
xAxis.select(".domain").attr("stroke-width", 1.5);

svg.append("path").datum(minData)
    .attr("d", line)
    .attr("fill", "none")
    .attr("stroke", seriesColors[2]).attr("stroke-width", 3);

svg.append("text")
    .attr("transform", "translate(78," + (margin.top + plotH / 2) + ") rotate(-90)")
    .attr("text-anchor", "middle")
    .attr("font-size", 19)
    .attr("fill", "#111")
    .text("nits (cd/m\u00B2)");

svg.append("text")
    .attr("x", margin.left + plotW / 2).attr("y", 1166)
    .attr("text-anchor", "middle")
    .attr("font-size", 19)
    .attr("fill", "#111")
    .text("frames");

// legend
var legend = svg.append("g").attr("transform", "translate(125.5,1007)");
legend.append("rect")
    .attr("width", 487).attr("height", 98)
    .attr("fill", "#fff").attr("stroke", "#000").attr("stroke-width", 1.2);
var item = legend.selectAll("g.item").data(legendLabels)
  .enter().append("g")
    .attr("transform", function(d, i) { return "translate(0," + (17 + i * 30.5) + ")"; });
item.append("line")
    .attr("x1", 10).attr("x2", 30)
    .attr("stroke", function(d, i) { return seriesColors[i]; })
    .attr("stroke-width", 2.5);
item.append("text")
    .attr("x", 40).attr("dy", "0.35em")
    .attr("font-size", 19)
    .attr("fill", "#111")
    .text(function(d) { return d; });
</script>
</body>
</html>
